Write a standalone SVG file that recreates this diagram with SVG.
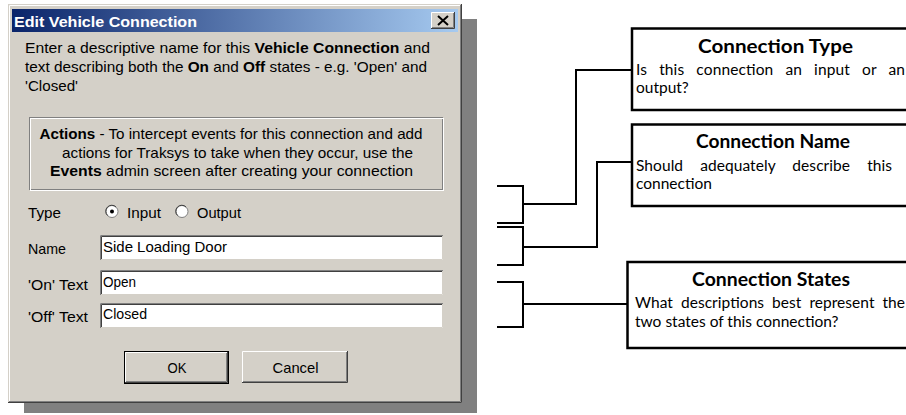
<svg xmlns="http://www.w3.org/2000/svg" width="906" height="415" viewBox="0 0 906 415">
<defs>
<linearGradient id="tb" x1="0" y1="0" x2="1" y2="0">
<stop offset="0" stop-color="#0A246A"/>
<stop offset="1" stop-color="#A6CAF0"/>
</linearGradient>
</defs>
<style>
.ui{font-family:"Liberation Sans",Arial,sans-serif;font-size:15px;fill:#000}
.b{font-weight:bold}
.ttl{font-family:"Liberation Sans",Arial,sans-serif;font-size:14px;font-weight:bold;fill:#fff}
.hi{fill:none;stroke:#fff;stroke-width:1}
.lo{fill:none;stroke:#808080;stroke-width:1}
.dk{fill:none;stroke:#404040;stroke-width:1}
.lt{fill:none;stroke:#D4D0C8;stroke-width:1}
.co{fill:#fff;stroke:#000;stroke-width:2.5}
.ch{font-family:Lato,"Liberation Sans",sans-serif;font-size:18px;font-weight:bold;fill:#000}
.cb{font-family:Lato,"Liberation Sans",sans-serif;font-size:15.5px;fill:#000}
.cn{fill:none;stroke:#000;stroke-width:2}
</style>
<rect width="906" height="415" fill="#fff"/>

<g id="dialog">
<rect x="24" y="19" width="453" height="394" fill="#808080"/>
<rect x="8" y="4" width="454" height="399" fill="#D4D0C8"/>
<path class="lt" d="M8.5,402 V4.5 H461"/>
<path class="hi" d="M9.5,401 V5.5 H460"/>
<path class="dk" d="M8,402.5 H461.5 V4"/>
<path class="lo" d="M9,401.5 H460.5 V5"/>
<rect x="12" y="9" width="446" height="23" fill="url(#tb)"/>
<text class="ttl" x="14" y="26.5" textLength="183" lengthAdjust="spacingAndGlyphs">Edit Vehicle Connection</text>
<g id="close-btn">
<rect x="431" y="12" width="24" height="17" fill="#D4D0C8"/>
<path class="hi" d="M431.5,28 V12.5 H454"/>
<path class="dk" d="M431,28.5 H454.5 V12"/>
<path class="lo" d="M432,27.5 H453.5 V13"/>
<path d="M438,16 L448,25 M448,16 L438,25" stroke="#000" stroke-width="2"/>
</g>

<text class="ui" x="25" y="52.5" textLength="405" lengthAdjust="spacingAndGlyphs">Enter a descriptive name for this <tspan class="b">Vehicle Connection</tspan> and</text>
<text class="ui" x="25" y="71.5" textLength="402" lengthAdjust="spacingAndGlyphs">text describing both the <tspan class="b">On</tspan> and <tspan class="b">Off</tspan> states - e.g. 'Open' and</text>
<text class="ui" x="25" y="90.5" textLength="53" lengthAdjust="spacingAndGlyphs">'Closed'</text>

<g id="actions">
<rect x="29.5" y="117.5" width="413" height="72" fill="none" stroke="#808080"/>
<rect x="30.5" y="118.5" width="413" height="72" fill="none" stroke="#fff"/>
<text class="ui" x="231" y="138.5" text-anchor="middle" textLength="383" lengthAdjust="spacingAndGlyphs"><tspan class="b">Actions</tspan> - To intercept events for this connection and add</text>
<text class="ui" x="237.5" y="157.5" text-anchor="middle" textLength="351" lengthAdjust="spacingAndGlyphs">actions for Traksys to take when they occur, use the</text>
<text class="ui" x="231.5" y="175.5" text-anchor="middle" textLength="363" lengthAdjust="spacingAndGlyphs"><tspan class="b">Events</tspan> admin screen after creating your connection</text>
</g>

<g id="type-row">
<text class="ui" x="28" y="217.5" textLength="33" lengthAdjust="spacingAndGlyphs">Type</text>
<circle cx="112" cy="211.5" r="6" fill="#fff" stroke="#808080"/>
<path d="M107.5,215.5 A6,6 0 0 1 116,207" fill="none" stroke="#404040"/>
<circle cx="112" cy="211.5" r="2" fill="#000"/>
<text class="ui" x="127" y="217.5" textLength="34" lengthAdjust="spacingAndGlyphs">Input</text>
<circle cx="182" cy="211.5" r="6" fill="#fff" stroke="#808080"/>
<path d="M177.5,215.5 A6,6 0 0 1 186,207" fill="none" stroke="#404040"/>
<text class="ui" x="197" y="217.5" textLength="44" lengthAdjust="spacingAndGlyphs">Output</text>
</g>

<g id="name-row">
<text class="ui" x="28" y="254" textLength="38" lengthAdjust="spacingAndGlyphs">Name</text>
<rect x="100" y="235" width="343" height="25" fill="#fff"/>
<path class="lo" d="M100.5,260 V235.5 H443"/>
<path class="dk" d="M101.5,259 V236.5 H442"/>
<path class="lt" d="M101,259.5 H442.5 V236"/>
<text class="ui" x="103" y="251.5" textLength="124" lengthAdjust="spacingAndGlyphs">Side Loading Door</text>
</g>

<g id="on-row">
<text class="ui" x="28" y="290" textLength="60" lengthAdjust="spacingAndGlyphs">'On' Text</text>
<rect x="100" y="270" width="343" height="25" fill="#fff"/>
<path class="lo" d="M100.5,295 V270.5 H443"/>
<path class="dk" d="M101.5,294 V271.5 H442"/>
<path class="lt" d="M101,294.5 H442.5 V271"/>
<text class="ui" x="103" y="286.5" textLength="33" lengthAdjust="spacingAndGlyphs">Open</text>
</g>

<g id="off-row">
<text class="ui" x="28" y="322" textLength="60" lengthAdjust="spacingAndGlyphs">'Off' Text</text>
<rect x="100" y="303" width="343" height="25" fill="#fff"/>
<path class="lo" d="M100.5,328 V303.5 H443"/>
<path class="dk" d="M101.5,327 V304.5 H442"/>
<path class="lt" d="M101,327.5 H442.5 V304"/>
<text class="ui" x="103" y="318.5" textLength="44" lengthAdjust="spacingAndGlyphs">Closed</text>
</g>

<g id="ok-btn">
<rect x="124.5" y="351.5" width="104" height="32" fill="#D4D0C8" stroke="#000"/>
<path class="hi" d="M125.5,382 V352.5 H227"/>
<path class="dk" d="M125,382.5 H227.5 V352"/>
<path class="lo" d="M126,381.5 H226.5 V353"/>
<text class="ui" x="177" y="372.5" text-anchor="middle" textLength="19" lengthAdjust="spacingAndGlyphs">OK</text>
</g>
<g id="cancel-btn">
<rect x="242" y="351" width="106" height="32" fill="#D4D0C8"/>
<path class="hi" d="M242.5,382 V351.5 H347"/>
<path class="dk" d="M242,382.5 H347.5 V351"/>
<path class="lo" d="M243,381.5 H346.5 V352"/>
<text class="ui" x="295.5" y="372.5" text-anchor="middle" textLength="46" lengthAdjust="spacingAndGlyphs">Cancel</text>
</g>
</g>

<g id="connectors">
<path class="cn" d="M497,186 H523 V223 H497"/>
<path class="cn" d="M523,204 H576 V70 H632"/>
<path class="cn" d="M497,227 H523 V265 H497"/>
<path class="cn" d="M523,247 H597 V162 H632"/>
<path class="cn" d="M497,282 H523 V327 H497"/>
<path class="cn" d="M523,304 H627"/>
</g>

<g id="callout-type">
<rect class="co" x="632" y="28.5" width="290" height="81.5"/>
<text class="ch" x="775.5" y="53" text-anchor="middle" textLength="155" lengthAdjust="spacingAndGlyphs">Connection Type</text>
<text class="cb" x="636" y="75" word-spacing="8" textLength="269" lengthAdjust="spacing">Is this connection an input or an</text>
<text class="cb" x="636" y="93">output?</text>
</g>

<g id="callout-name">
<rect class="co" x="632" y="124.5" width="290" height="81.5"/>
<text class="ch" x="773" y="148" text-anchor="middle" textLength="154" lengthAdjust="spacingAndGlyphs">Connection Name</text>
<text class="cb" x="636" y="170.5" word-spacing="13" textLength="256" lengthAdjust="spacing">Should adequately describe this</text>
<text class="cb" x="636" y="189">connection</text>
</g>

<g id="callout-states">
<rect class="co" x="627.5" y="262" width="290" height="86"/>
<text class="ch" x="771" y="286" text-anchor="middle" textLength="158" lengthAdjust="spacingAndGlyphs">Connection States</text>
<text class="cb" x="635" y="308" word-spacing="4" textLength="270" lengthAdjust="spacing">What descriptions best represent the</text>
<text class="cb" x="635" y="326.5">two states of this connection?</text>
</g>
</svg>
